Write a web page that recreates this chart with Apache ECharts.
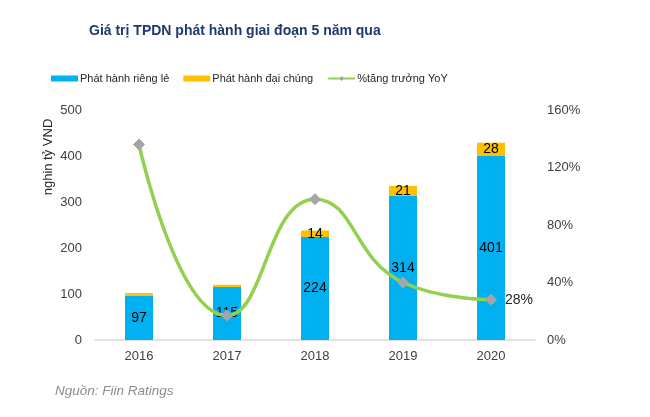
<!DOCTYPE html>
<html>
<head>
<meta charset="utf-8">
<script src="https://cdn.jsdelivr.net/npm/echarts@6/dist/echarts.min.js"></script>
<style>
html,body{margin:0;padding:0;background:#fff;}
#c{width:650px;height:417px;}
</style>
</head>
<body>
<div id="c"></div>
<script>
const categories = ['2016', '2017', '2018', '2019', '2020'];
const privateIssue = [97, 115, 224, 314, 401];
const publicIssue = [5, 5, 14, 21, 28];
const growthYoY = [136, 17, 98, 40, 28];
const leftTicks = [0, 100, 200, 300, 400, 500];
const rightTicks = [0, 40, 80, 120, 160];

const chart = echarts.init(document.getElementById('c'));
const font = 'Liberation Sans, Arial, sans-serif';
chart.setOption({
  animation: false,
  textStyle: { fontFamily: font },
  title: {
    text: 'Giá trị TPDN phát hành giai đoạn 5 năm qua',
    left: 89, top: 24, padding: 0,
    textStyle: { fontSize: 14, fontWeight: 'bold', color: '#1F3A6E', fontFamily: font }
  },
  graphic: [{
    type: 'text', left: 55, top: 384,
    style: { text: 'Nguồn: Fiin Ratings', font: 'italic 13.5px ' + font, fill: '#8C8C8C' }
  }, {
    type: 'text', x: 48, y: 157, rotation: Math.PI / 2,
    style: { text: 'nghin tỷ VND', font: '13px ' + font, fill: '#262626',
      textAlign: 'center', textVerticalAlign: 'middle' }
  }],
  legend: {
    left: 51, top: 73, padding: 0,
    itemWidth: 27, itemHeight: 6, itemGap: 14,
    textStyle: { fontSize: 11, color: '#262626', padding: [0, 0, 0, -3] },
    data: [
      { name: 'Phát hành riêng lẻ', icon: 'rect' },
      { name: 'Phát hành đại chúng', icon: 'rect' },
      { name: '%tăng trưởng YoY' }
    ]
  },
  grid: { left: 95, right: 115, top: 110, bottom: 77 },
  xAxis: {
    type: 'category', data: categories,
    axisLine: { lineStyle: { color: '#D9D9D9', width: 1.5 } },
    axisTick: { show: false },
    axisLabel: { fontSize: 13, color: '#404040', margin: 10 }
  },
  yAxis: [{
    type: 'value', min: 0, max: 500, interval: 100,
    splitLine: { show: false },
    axisLine: { show: false }, axisTick: { show: false },
    axisLabel: { fontSize: 13, color: '#404040', margin: 13,
      formatter: v => leftTicks.includes(v) ? String(v) : '' }
  }, {
    type: 'value', min: 0, max: 160, interval: 40,
    splitLine: { show: false },
    axisLine: { show: false }, axisTick: { show: false },
    axisLabel: { fontSize: 13, color: '#404040', margin: 12,
      formatter: v => rightTicks.includes(v) ? v + '%' : '' }
  }],
  series: [{
    name: 'Phát hành riêng lẻ', type: 'bar', stack: 'a', data: privateIssue,
    barWidth: 28, itemStyle: { color: '#00B0F0' },
    label: { show: true, position: 'inside', fontSize: 14, color: '#000' }
  }, {
    name: 'Phát hành đại chúng', type: 'bar', stack: 'a', data: publicIssue,
    barWidth: 28, itemStyle: { color: '#FFC000' },
    label: { show: true, position: 'inside', fontSize: 14, color: '#000',
      formatter: p => p.value >= 10 ? String(p.value) : '' }
  }, {
    name: '%tăng trưởng YoY', type: 'line', yAxisIndex: 1, data: growthYoY,
    smooth: 0.5, symbol: 'diamond', symbolSize: 11,
    lineStyle: { color: '#92D050', width: 3.5 },
    itemStyle: { color: '#A5A5A5', borderColor: '#A5A5A5' },
    label: { show: true, position: 'right', distance: 8, fontSize: 14, color: '#262626',
      formatter: p => p.dataIndex === growthYoY.length - 1 ? p.value + '%' : '' },
    z: 5
  }]
});
</script>
</body>
</html>
